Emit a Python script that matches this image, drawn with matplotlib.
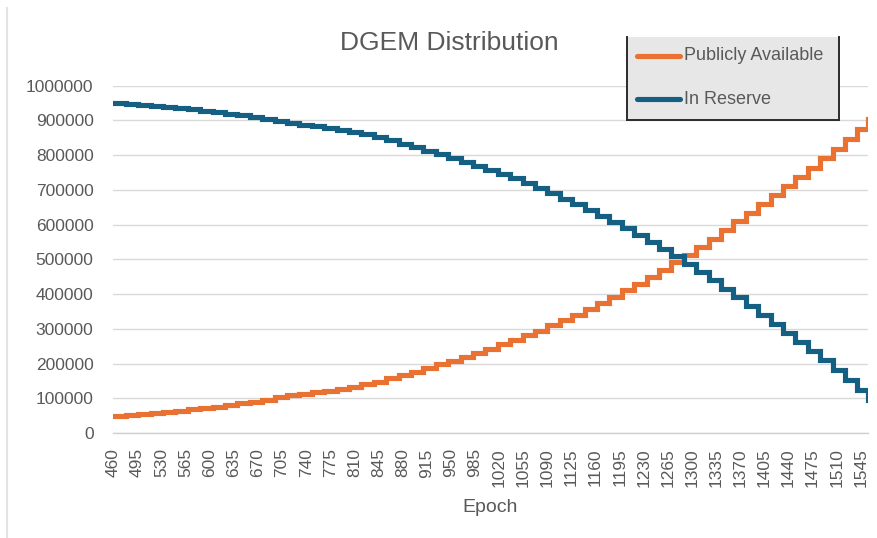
import matplotlib
matplotlib.use("Agg")
import matplotlib.pyplot as plt
from matplotlib.lines import Line2D
from matplotlib.patches import Rectangle

# ---- data ----
epochs = [460, 478, 496, 514, 532, 550, 568, 586, 604, 622, 640, 658, 676, 694,
          712, 730, 748, 766, 784, 802, 820, 838, 856, 874, 892, 910, 928, 946,
          964, 982, 1000, 1018, 1036, 1054, 1072, 1090, 1108, 1126, 1144, 1162,
          1180, 1198, 1216, 1234, 1252, 1270, 1288, 1306, 1324, 1342, 1360, 1378,
          1396, 1414, 1432, 1450, 1468, 1486, 1504, 1522, 1540, 1555]

publicly_available = [50000, 53000, 56000, 58500, 61500, 64500, 68000, 72000,
                      76000, 80500, 85000, 90000, 96000, 103000, 108000, 112000,
                      117000, 122000, 127000, 133000, 140000, 148000, 157000,
                      167000, 177000, 187000, 198000, 208000, 219000, 230000,
                      243000, 255000, 267000, 281000, 295000, 310000, 325000,
                      341000, 357000, 374000, 392000, 411000, 430000, 450000,
                      470000, 491000, 513000, 536000, 560000, 584000, 609000,
                      634000, 660000, 686000, 712000, 738000, 764000, 791000,
                      818000, 846000, 875000, 905000]

in_reserve = [950000, 947000, 944000, 941500, 938500, 935500, 932000, 928000,
              924000, 919500, 915000, 910000, 904000, 897000, 892000, 888000,
              883000, 878000, 873000, 867000, 860000, 852000, 843000, 833000,
              823000, 813000, 802000, 792000, 781000, 770000, 757000, 745000,
              733000, 719000, 705000, 690000, 675000, 659000, 643000, 626000,
              608000, 589000, 570000, 550000, 530000, 509000, 487000, 464000,
              440000, 416000, 391000, 366000, 340000, 314000, 288000, 262000,
              236000, 209000, 182000, 154000, 125000, 95000]

x_ticks = list(range(460, 1546, 35))
y_ticks = list(range(0, 1000001, 100000))

series_names = ["Publicly Available", "In Reserve"]
series_colors = ["#E97132", "#156082"]

# ---- figure ----
W, H = 878, 538
fig = plt.figure(figsize=(W / 100, H / 100), dpi=100)
fig.patch.set_facecolor("white")
plt.rcParams['font.family'] = ['Liberation Sans', 'DejaVu Sans']
text_color = "#595959"

def fx(px):
    return px / W

def fy(py):
    return 1 - py / H

ax = fig.add_axes([fx(113), fy(433), fx(868) - fx(113), fy(85.7) - fy(433)])

ax.plot(epochs, publicly_available, drawstyle="steps-post",
        color=series_colors[0], lw=3.7, solid_joinstyle="miter", zorder=3)
ax.plot(epochs, in_reserve, drawstyle="steps-post",
        color=series_colors[1], lw=3.7, solid_joinstyle="miter", zorder=4)

ax.set_xlim(459.5, 1555.5)
ax.set_ylim(0, 1000000)
ax.set_xticks(x_ticks)
ax.set_xticklabels([str(t) for t in x_ticks], rotation=90)
ax.set_yticks(y_ticks)
ax.set_yticklabels([str(t) for t in y_ticks])

ax.grid(axis="y", color="#D9D9D9", lw=1.0)
ax.set_axisbelow(True)
for s in ["top", "right", "left"]:
    ax.spines[s].set_visible(False)
ax.spines["bottom"].set_color("#D0D0D0")
ax.spines["bottom"].set_linewidth(1.0)
ax.tick_params(axis="both", length=0, colors=text_color, labelsize=12.5)
ax.tick_params(axis="y", pad=14)
ax.tick_params(axis="x", pad=11)

ax.set_xlabel("Epoch", fontsize=14, color=text_color, va="center")
ax.xaxis.set_label_coords(0.5, -(508 - 433) / (433 - 85.7))

# title
fig.text(fx(449), fy(43), "DGEM Distribution", ha="center", va="center",
         fontsize=19, color=text_color)

# left chart border line
fig.add_artist(Line2D([fx(7.5), fx(7.5)], [fy(8), fy(538)], color="#E3E3E3",
                      lw=1.5))

# legend box (drawn manually to match the clipped-top frame)
lx0, lx1, ly0, ly1 = 627, 839, 37, 120
fig.add_artist(Rectangle((fx(lx0), fy(ly1)), fx(lx1) - fx(lx0), fy(ly0) - fy(ly1),
                         facecolor="#E7E7E7", edgecolor="none", zorder=5))
for (xa, ya, xb, yb) in [(lx0, ly0, lx0, ly1), (lx1, ly0, lx1, ly1), (lx0, ly1, lx1, ly1)]:
    fig.add_artist(Line2D([fx(xa), fx(xb)], [fy(ya), fy(yb)], color="#2B2B2B",
                          lw=1.4, zorder=6))
for name, col, yy in zip(series_names, series_colors, [56, 99]):
    fig.add_artist(Line2D([fx(637), fx(680)], [fy(yy), fy(yy)], color=col,
                          lw=3.7, solid_capstyle="round", zorder=6))
    fig.text(fx(684), fy(yy), name, ha="left", va="center", fontsize=13,
             color=text_color, zorder=7)

fig.savefig("out.png", dpi=100, facecolor="white")
